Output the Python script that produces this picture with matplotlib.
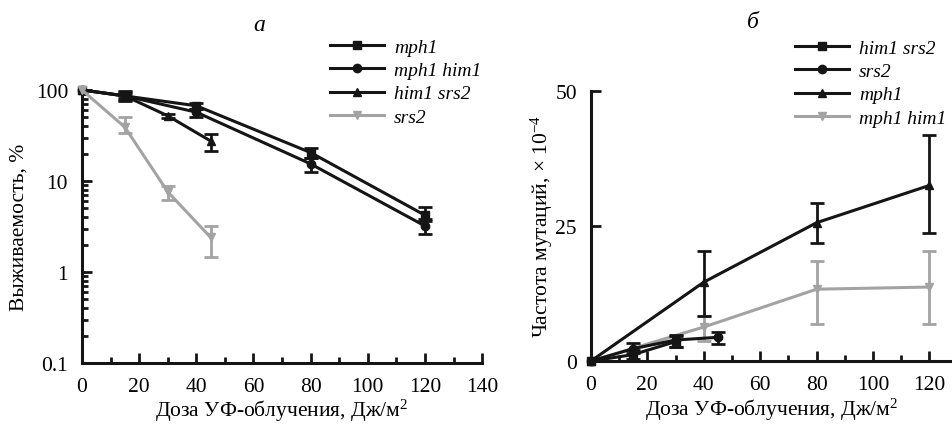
import numpy as np
import matplotlib
matplotlib.use("Agg")
import matplotlib.pyplot as plt
from matplotlib.ticker import FixedLocator, NullFormatter, LogLocator

plt.rcParams['font.family'] = ['Liberation Serif', 'DejaVu Serif']
plt.rcParams['mathtext.fontset'] = 'custom'
plt.rcParams['mathtext.rm'] = 'Liberation Serif'
plt.rcParams['mathtext.it'] = 'Liberation Serif:italic'

BLACK = '#151515'
GRAY = '#a3a3a3'

# --- panel a: survival ---
dose_a_long = [0, 15, 40, 80, 120]
dose_a_short = [0, 15, 30, 45]
surv_mph1 = [100, 86, 67, 20.5, 4.2]
surv_mph1_lo = [0, 10, 6, 2.5, 0.6]
surv_mph1_hi = [0, 12, 5, 2.5, 1.0]
surv_mph1_him1 = [100, 86, 57, 15.4, 3.2]
surv_mph1_him1_lo = [0, 8, 6, 2.8, 0.6]
surv_mph1_him1_hi = [0, 8, 5, 2.5, 0.6]
surv_him1_srs2 = [100, 86, 52, 27.5]
surv_him1_srs2_lo = [0, 5, 3, 6]
surv_him1_srs2_hi = [0, 5, 3, 5.5]
surv_srs2 = [100, 39, 7.6, 2.4]
surv_srs2_lo = [0, 5, 1.4, 0.93]
surv_srs2_hi = [0, 11, 1.3, 0.8]

# --- panel b: mutation frequency (x 1e-4) ---
dose_b_hs = [0, 15, 30]
dose_b_s = [0, 15, 30, 45]
dose_b_long = [0, 40, 80, 120]
mut_him1_srs2 = [0, 1.2, 3.6]
mut_him1_srs2_lo = [0, 0.8, 1.0]
mut_him1_srs2_hi = [0, 0.8, 1.0]
mut_srs2 = [0, 2.3, 3.9, 4.4]
mut_srs2_lo = [0, 0.8, 1.2, 1.3]
mut_srs2_hi = [0, 1.0, 0.9, 1.0]
mut_mph1 = [0, 14.6, 25.6, 32.5]
mut_mph1_lo = [0, 6.3, 3.8, 8.8]
mut_mph1_hi = [0, 5.8, 3.7, 9.3]
mut_mph1_him1 = [0, 6.3, 13.3, 13.7]
mut_mph1_him1_lo = [0, 2.6, 6.4, 6.8]
mut_mph1_him1_hi = [0, 2.0, 5.2, 6.7]


def series(ax, x, y, lo, hi, color, marker, label):
    ax.plot(x, y, color=color, marker=marker, ms=6, lw=2.2, label=label,
            clip_on=False, zorder=3)
    ax.errorbar(x[1:], y[1:], yerr=[lo[1:], hi[1:]], fmt='none',
                ecolor=color, elinewidth=2, capsize=5, capthick=2,
                clip_on=False, zorder=3)


def style(ax):
    for s in ['top', 'right']:
        ax.spines[s].set_visible(False)
    for s in ['left', 'bottom']:
        ax.spines[s].set_linewidth(2.2)
        ax.spines[s].set_color(BLACK)
    ax.tick_params(which='major', direction='in', length=7, width=2,
                   labelsize=15.5, pad=10, color=BLACK)
    ax.tick_params(which='minor', direction='in', length=4, width=2,
                   color=BLACK)


fig = plt.figure(figsize=(9.53, 4.27), dpi=100)

# panel a
ax1 = fig.add_axes([0.086, 0.1475, 0.42, 0.6395])
series(ax1, dose_a_long, surv_mph1, surv_mph1_lo, surv_mph1_hi, BLACK, 's', 'mph1')
series(ax1, dose_a_long, surv_mph1_him1, surv_mph1_him1_lo, surv_mph1_him1_hi, BLACK, 'o', 'mph1 him1')
series(ax1, dose_a_short, surv_him1_srs2, surv_him1_srs2_lo, surv_him1_srs2_hi, BLACK, '^', 'him1 srs2')
series(ax1, dose_a_short, surv_srs2, surv_srs2_lo, surv_srs2_hi, GRAY, 'v', 'srs2')
ax1.set_yscale('log')
ax1.set_ylim(0.1, 100)
ax1.set_xlim(0, 140)
ax1.set_yticks([0.1, 1, 10, 100])
ax1.set_yticklabels(['0.1', '1', '10', '100'])
ax1.yaxis.set_minor_locator(LogLocator(base=10, subs=np.arange(2, 10)))
ax1.yaxis.set_minor_formatter(NullFormatter())
ax1.set_xticks(np.arange(0, 141, 20))
ax1.xaxis.set_minor_locator(FixedLocator(np.arange(10, 140, 20)))
style(ax1)
ax1.set_xlabel('Доза УФ-облучения, Дж/м$^2$', fontsize=15.5, labelpad=1)
ax1.set_ylabel('Выживаемость, %', fontsize=15.5, labelpad=5)
fig.text(0.272, 0.94, 'а', fontsize=17, style='italic', ha='center', va='center')
ax1.legend(loc='upper left', bbox_to_anchor=(330 / 953, 1 - 39 / 427),
           bbox_transform=fig.transFigure, frameon=False,
           prop={'style': 'italic', 'size': 14}, handlelength=2.8,
           handletextpad=0.5, labelspacing=0.3, borderpad=0, borderaxespad=0)

# panel b
ax2 = fig.add_axes([0.620, 0.152, 0.379, 0.633])
series(ax2, dose_b_long, mut_mph1_him1, mut_mph1_him1_lo, mut_mph1_him1_hi, GRAY, 'v', 'mph1 him1')
series(ax2, dose_b_hs, mut_him1_srs2, mut_him1_srs2_lo, mut_him1_srs2_hi, BLACK, 's', 'him1 srs2')
series(ax2, dose_b_s, mut_srs2, mut_srs2_lo, mut_srs2_hi, BLACK, 'o', 'srs2')
series(ax2, dose_b_long, mut_mph1, mut_mph1_lo, mut_mph1_hi, BLACK, '^', 'mph1')
ax2.set_ylim(0, 50)
ax2.set_xlim(0, 128)
ax2.set_yticks([0, 25, 50])
ax2.set_xticks(np.arange(0, 121, 20))
ax2.xaxis.set_minor_locator(FixedLocator(np.arange(10, 130, 20)))
style(ax2)
ax2.set_xlabel('Доза УФ-облучения, Дж/м$^2$', fontsize=15.5, labelpad=1)
ax2.set_ylabel('Частота мутаций, × 10$^{-4}$', fontsize=15.5, labelpad=0)
fig.text(0.790, 0.948, 'б', fontsize=17, style='italic', ha='center', va='center')
h, l = ax2.get_legend_handles_labels()
order = [l.index(n) for n in ['him1 srs2', 'srs2', 'mph1', 'mph1 him1']]
ax2.legend([h[i] for i in order], [l[i] for i in order],
           loc='upper left', bbox_to_anchor=(795 / 953, 1 - 40 / 427),
           bbox_transform=fig.transFigure, frameon=False,
           prop={'style': 'italic', 'size': 14}, handlelength=2.8,
           handletextpad=0.5, labelspacing=0.3, borderpad=0, borderaxespad=0)

fig.savefig('out.png', dpi=100)
